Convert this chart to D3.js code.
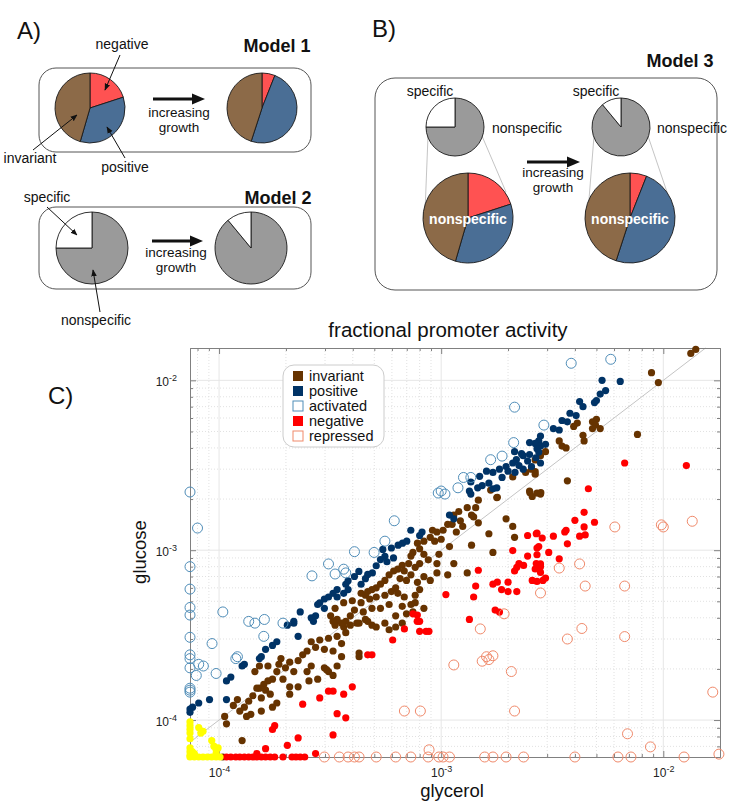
<!DOCTYPE html>
<html><head><meta charset="utf-8">
<script src="https://cdn.jsdelivr.net/npm/d3@7"></script>
<style>
body{margin:0;background:#fff}
text{font-family:"Liberation Sans",Arial,Helvetica,sans-serif;fill:#111}
</style>
</head><body>
<svg id="c" width="750" height="808"></svg>
<script>
// ---------------- DATA ----------------
const growthParts = ["negative", "positive", "invariant"];
const growthBefore = [0.20, 0.345, 0.455];
const growthAfter = [0.06, 0.49, 0.45];
const specParts = ["nonspecific", "specific"];
const specBefore = [0.75, 0.25];
const specAfter = [0.89, 0.11];

const xMajorTicks = [1e-4, 1e-3, 1e-2];
const yMajorTicks = [1e-4, 1e-3, 1e-2];
const legendLabels = ["invariant", "positive", "activated", "negative", "repressed"];

// [glycerol, glucose]
const invariant = [
[1.40e-2,1.52e-2],[1.33e-2,1.44e-2],[8.85e-3,1.11e-2],[9.5e-3,9.7e-3],[5.0e-3,5.9e-3],[4.8e-3,5.7e-3],[4.95e-3,5.45e-3],[5.2e-3,5.2e-3],[4.8e-3,5.2e-3],[4.1e-3,5.6e-3],[3.95e-3,5.35e-3],[4.35e-3,4.75e-3],[4.4e-3,4.4e-3],[7.65e-3,4.8e-3],[3.4e-3,4.4e-3],[3.5e-3,4.1e-3],[3.65e-3,4.0e-3],[2.95e-3,3.8e-3],[2.8e-3,3.6e-3],[2.65e-3,3.4e-3],[2.55e-3,3.0e-3],[2.65e-3,2.9e-3],[3.7e-3,2.56e-3],[2.7e-3,2.17e-3],
[2.4e-3,2.87e-3],[2.1e-3,2.7e-3],[2.5e-3,2.23e-3],[2.8e-3,2.14e-3],[2.65e-3,2.8e-3],[1.78e-3,2.04e-3],
[1.47e-3,1.97e-3],[1.79e-3,2.05e-3],[2.51e-3,2.18e-3],[2.81e-3,2.18e-3],[1.67e-3,2.26e-3],[1.43e-3,1.78e-3],[1.31e-3,1.78e-3],[1.2e-3,1.69e-3],[1.14e-3,1.61e-3],[1.22e-3,1.49e-3],[1.37e-3,1.61e-3],[1.12e-3,1.42e-3],[1.25e-3,1.38e-3],[1.17e-3,1.28e-3],[1.07e-3,1.42e-3],[1.02e-3,1.31e-3],[9.57e-4,1.28e-3],[9.14e-4,1.31e-3],[8.93e-4,1.19e-3],[1.0e-3,1.16e-3],[9.35e-4,1.13e-3],[8.36e-4,1.13e-3],[7.82e-4,1.1e-3],[8.0e-4,1.02e-3],[7.46e-4,9.7e-4],[7.31e-4,9.23e-4],[8.36e-4,9.46e-4],[8.75e-4,8.77e-4],[8.0e-4,8.34e-4],[7.64e-4,7.93e-4],[7.14e-4,8.34e-4],[6.68e-4,8.13e-4],[6.38e-4,7.73e-4],[6.82e-4,7.54e-4],[6.11e-4,7.54e-4],[5.83e-4,7.16e-4],[6.53e-4,6.81e-4],[5.58e-4,6.64e-4],[5.33e-4,6.31e-4],[5.1e-4,6.0e-4],[4.88e-4,5.86e-4],[4.67e-4,5.71e-4],[4.56e-4,5.43e-4],[4.36e-4,5.57e-4],[4.77e-4,5.16e-4],[5.1e-4,5.3e-4],[5.58e-4,5.43e-4],[5.97e-4,5.71e-4],[6.24e-4,6.0e-4],[6.98e-4,6.64e-4],[7.31e-4,7.16e-4],[7.82e-4,6.47e-4],[8.36e-4,6.98e-4],[9.57e-4,7.35e-4],[8.93e-4,6.64e-4],[1.07e-3,7.16e-4],[9.57e-4,8.34e-4],[1.09e-3,1.05e-3],[9.77e-4,9.46e-4],[1.37e-3,1.07e-3],[1.31e-3,7.35e-4],[1.71e-3,9.7e-4],[1.64e-3,1.25e-3],[2.14e-3,1.19e-3],[2.1e-3,1.38e-3],[1.96e-3,1.53e-3],[2.57e-3,2.07e-3],[1.4e-3,1.57e-3],[1.47e-3,1.45e-3],[1.14e-3,8.34e-4],[8.0e-4,5.86e-4],[7.64e-4,5.43e-4],[6.82e-4,5.3e-4],[6.38e-4,5.57e-4],[5.83e-4,4.79e-4],[5.33e-4,4.55e-4],[4.88e-4,4.55e-4],[4.46e-4,4.33e-4],[4.07e-4,4.44e-4],[3.9e-4,4.11e-4],[3.72e-4,3.81e-4],[3.4e-4,3.91e-4],[3.18e-4,4.11e-4],[3.33e-4,3.62e-4],[3.64e-4,3.53e-4],[4.17e-4,3.72e-4],[4.56e-4,3.91e-4],[4.88e-4,3.62e-4],[5.58e-4,3.72e-4],[6.24e-4,4.11e-4],[6.68e-4,4.67e-4],[7.31e-4,4.79e-4],[6.98e-4,4.22e-4],[6.24e-4,3.53e-4],[5.83e-4,3.4e-4],[5.1e-4,3.53e-4],[6.68e-4,3.72e-4],[7.64e-4,4.91e-4],[8.36e-4,4.55e-4],[7.46e-4,4.33e-4],[4.36e-4,4.91e-4],[3.98e-4,5.04e-4],[3.64e-4,4.91e-4],[3.33e-4,4.55e-4],
[3.26e-4,3.81e-4],[3.56e-4,3.72e-4],[3.9e-4,3.62e-4],[4.27e-4,3.72e-4],[4.67e-4,3.81e-4],[3.72e-4,3.27e-4],[3.4e-4,3.11e-4],[3.11e-4,3.03e-4],[2.84e-4,2.96e-4],[2.6e-4,2.89e-4],[2.72e-4,2.68e-4],[2.98e-4,2.61e-4],[3.26e-4,2.55e-4],[3.56e-4,2.82e-4],[2.49e-4,2.55e-4],[2.38e-4,2.42e-4],[2.27e-4,2.24e-4],[2.08e-4,2.19e-4],[1.9e-4,2.3e-4],[1.99e-4,2.03e-4],[2.17e-4,1.93e-4],[2.49e-4,1.93e-4],[2.6e-4,2.08e-4],[2.98e-4,2.03e-4],[3.11e-4,1.93e-4],[3.26e-4,1.83e-4],[3.56e-4,2.36e-4],[4.27e-4,2.48e-4],[4.27e-4,2.36e-4],[1.82e-4,1.93e-4],[1.74e-4,1.74e-4],[1.66e-4,1.7e-4],[1.59e-4,1.62e-4],[1.52e-4,1.54e-4],[1.62e-4,1.5e-4],[1.7e-4,1.42e-4],[1.55e-4,1.35e-4],[1.42e-4,1.39e-4],[1.36e-4,1.29e-4],[1.3e-4,1.19e-4],[1.33e-4,1.05e-4],[1.24e-4,1.13e-4],[1.21e-4,1.32e-4],[1.16e-4,1.22e-4],[1.06e-4,1.05e-4],[1.08e-4,9.5e-5],[1.27e-4,7.57e-5],[1.48e-4,1.54e-4],[1.94e-4,1.74e-4],[2.08e-4,1.57e-4],[2.27e-4,1.57e-4],[2.54e-4,1.7e-4],[2.78e-4,1.74e-4],[3.05e-4,1.98e-4],[3.4e-4,2.08e-4],[2.08e-4,1.42e-4],[1.74e-4,1.19e-4],[1.39e-4,1.08e-4],[1.55e-4,1.13e-4],[1.82e-4,1.26e-4],[1.45e-4,1.93e-4],[1.52e-4,2.08e-4],[1.66e-4,2.08e-4],[1.86e-4,2.13e-4],[1.04e-4,6.06e-5]
];

const positive = [
[6.4e-3,9.85e-3],[5.3e-3,1.0e-2],[5.5e-3,8.7e-3],[5.2e-3,8.3e-3],[5.0e-3,7.6e-3],[4.9e-3,7.4e-3],[4.2e-3,7.5e-3],[4.35e-3,7.0e-3],[3.8e-3,6.4e-3],[4.05e-3,6.2e-3],[3.5e-3,5.8e-3],[3.7e-3,5.7e-3],[3.2e-3,5.2e-3],[3.4e-3,5.1e-3],[2.8e-3,4.7e-3],[2.75e-3,4.4e-3],[2.65e-3,4.25e-3],[2.8e-3,4.1e-3],[2.7e-3,3.95e-3],[2.95e-3,4.2e-3],
[2.14e-3,3.8e-3],[2.5e-3,4.3e-3],[2.3e-3,3.7e-3],
[1.96e-3,3.11e-3],[2.1e-3,3.26e-3],[2.18e-3,3.41e-3],[2.34e-3,3.6e-3],[2.5e-3,3.66e-3],[2.67e-3,3.5e-3],[2.8e-3,3.26e-3],[2.55e-3,3.11e-3],[2.34e-3,3.0e-3],[2.15e-3,2.87e-3],[2.0e-3,2.92e-3],[2.45e-3,3.35e-3],[2.75e-3,3.78e-3],[2.24e-3,3.15e-3],
[1.36e-3,2.52e-3],[1.46e-3,2.33e-3],[1.53e-3,2.4e-3],[1.64e-3,2.48e-3],[1.71e-3,2.3e-3],[1.78e-3,2.33e-3],[1.88e-3,2.68e-3],[1.49e-3,2.72e-3],[1.71e-3,2.87e-3],[1.83e-3,3.0e-3],[1.6e-3,2.92e-3],[1.34e-3,2.23e-3],[1.36e-3,2.14e-3],
[1.09e-3,1.61e-3],[1.14e-3,1.53e-3],
[8.2e-4,1.28e-3],[7.3e-4,1.31e-3],[8.0e-4,1.22e-3],[6.7e-4,1.10e-3],[6.4e-4,1.07e-3],[7.0e-4,1.13e-3],[5.97e-4,1.03e-3],[5.46e-4,1.01e-3],[5.58e-4,9.2e-4],[5.33e-4,8.8e-4],[6.1e-4,9.0e-4],[5.7e-4,8.55e-4],[5.1e-4,8.1e-4],[4.67e-4,7.2e-4],[4.9e-4,7.35e-4],[4.56e-4,6.8e-4],[4.26e-4,7.5e-4],[4.07e-4,7.0e-4],[3.81e-4,6.6e-4],[3.72e-4,6.3e-4],[3.4e-4,5.86e-4],[3.26e-4,5.57e-4],[2.98e-4,5.16e-4],[2.84e-4,4.9e-4],[2.78e-4,4.79e-4],[3.11e-4,5.3e-4],[3.4e-4,5.3e-4],[3.64e-4,5.57e-4],[2.98e-4,4.55e-4],[2.72e-4,4.11e-4],[2.66e-4,3.81e-4],[2.6e-4,4.0e-4],[2.32e-4,4.33e-4],[2.17e-4,3.81e-4],[2.03e-4,3.62e-4],[3.81e-4,5.86e-4],[4.36e-4,6.3e-4],
[2.17e-4,3.72e-4],[2.27e-4,3.11e-4],[1.82e-4,2.89e-4],[1.74e-4,2.75e-4],[1.62e-4,2.61e-4],[1.55e-4,2.36e-4],[1.52e-4,2.3e-4],[1.3e-4,2.13e-4],[1.27e-4,2.08e-4],[1.13e-4,1.79e-4],[1.08e-4,1.7e-4],[1.08e-4,1.32e-4],[9.06e-5,1.32e-4],[8.1e-5,1.26e-4],[7.6e-5,1.19e-4],[7.4e-5,1.16e-4],[7.4e-5,1.11e-4]
];

const activated = [
[3.85e-3,1.26e-2],[5.8e-3,1.33e-2],[2.14e-3,6.95e-3],[2.9e-3,5.45e-3],[2.12e-3,4.3e-3],[1.67e-3,3.41e-3],[1.88e-3,3.58e-3],
[1.26e-3,2.68e-3],[1.36e-3,2.68e-3],[1.19e-3,2.33e-3],[1.0e-3,2.23e-3],[1.04e-3,2.14e-3],[9.7e-4,2.17e-3],
[6.15e-4,1.49e-3],[5.58e-4,1.13e-3],[4.99e-4,9.7e-4],[4.07e-4,9.8e-4],[3.11e-4,8.3e-4],[2.62e-4,7.06e-4],[3.33e-4,7.24e-4],[3.64e-4,7.73e-4],[3.72e-4,7.35e-4],
[1.04e-4,4.33e-4],[1.36e-4,3.81e-4],[1.45e-4,3.72e-4],[1.6e-4,3.91e-4],[1.94e-4,3.72e-4],[1.59e-4,3.11e-4],
[8e-5,1.35e-3],[7.4e-5,2.2e-3],[7.4e-5,8.0e-4],[7.4e-5,5.9e-4],[7.4e-5,4.6e-4],[7.4e-5,4.15e-4],
[7.4e-5,3.07e-4],[9.3e-5,2.82e-4],[7.4e-5,2.42e-4],[7.4e-5,2.3e-4],[8.1e-5,2.13e-4],[8.5e-5,2.08e-4],[7.9e-5,1.83e-4],[7.4e-5,2.03e-4],[9.7e-5,1.88e-4],[7.4e-5,1.54e-4],[7.4e-5,1.5e-4],[7.4e-5,1.46e-4],[1.21e-4,2.36e-4],[1.19e-4,2.3e-4]
];

const negative = [
[6.7e-3,3.26e-3],[1.27e-2,3.15e-3],[4.6e-3,2.3e-3],[4.4e-3,1.67e-3],[4.0e-3,1.5e-3],[4.9e-3,1.46e-3],[4.4e-3,1.37e-3],[3.65e-3,1.31e-3],
[2.7e-3,1.26e-3],[2.85e-3,1.18e-3],[3.2e-3,1.21e-3],[3.6e-3,1.28e-3],[4.2e-3,1.21e-3],[4.45e-3,1.23e-3],[3.7e-3,1.09e-3],[2.7e-3,1.03e-3],[2.7e-3,9.4e-4],[3.05e-3,9.7e-4],[3.4e-3,8.9e-4],[2.8e-3,8.3e-4],[2.8e-3,8.0e-4],[2.65e-3,7.75e-4],[2.8e-3,7.4e-4],[2.95e-3,6.85e-4],[2.7e-3,6.55e-4],
[2.45e-3,1.22e-3],[2.68e-3,1.25e-3],[2.1e-3,9.95e-4],[2.75e-3,1.05e-3],[2.45e-3,9.23e-4],[2.24e-3,8.34e-4],[2.19e-3,7.93e-4],[2.35e-3,8.13e-4],[2.14e-3,7.54e-4],[2.68e-3,8.34e-4],[2.87e-3,6.64e-4],[2.57e-3,6.64e-4],[2.0e-3,6.48e-4],[1.79e-3,6.48e-4],[1.71e-3,6.31e-4],[1.87e-3,5.86e-4],[2.0e-3,5.71e-4],[2.19e-3,5.71e-4],[1.43e-3,6.15e-4],[1.4e-3,5.3e-4],[1.05e-3,5.48e-4],[1.47e-3,7.62e-4],[1.75e-3,4.44e-4],[1.83e-3,4.32e-4],[1.34e-3,3.91e-4],[7.81e-4,4.15e-4],[8.0e-4,3.81e-4],[7.47e-4,4.22e-4],
[6.05e-4,2.96e-4],[6.83e-4,3.44e-4],[8.0e-4,3.33e-4],[8.55e-4,3.33e-4],[8.81e-4,3.33e-4],[7.8e-4,3.81e-4],[4.88e-4,2.42e-4],[4.67e-4,2.42e-4],[3.98e-4,1.57e-4],[3.64e-4,1.42e-4],[3.26e-4,1.48e-4],[3.11e-4,1.48e-4],[2.84e-4,1.35e-4],[2.38e-4,1.24e-4],[3.4e-4,1.09e-4],[3.72e-4,1.03e-4],[3.26e-4,8.17e-5],[2.27e-4,7.85e-5],[2.03e-4,7.1e-5],[1.78e-4,9.27e-5],[1.74e-4,8.8e-5],[1.62e-4,6.78e-5],[1.48e-4,6.35e-5],[2.72e-4,6.35e-5],
[1.08e-4,6.06e-5],[1.13e-4,6.06e-5],[1.19e-4,6.06e-5],[1.24e-4,6.06e-5],[1.3e-4,6.06e-5],[1.36e-4,6.06e-5],[1.42e-4,6.06e-5],[1.48e-4,6.06e-5],[1.55e-4,6.06e-5],[1.62e-4,6.06e-5],[1.7e-4,6.06e-5],[1.78e-4,6.06e-5],[1.94e-4,6.06e-5],[2.13e-4,6.06e-5],[2.22e-4,6.06e-5],[2.32e-4,6.06e-5],[2.43e-4,6.06e-5]
];

const repressed = [
[2.98e-4,6.06e-5],[3.48e-4,6.06e-5],[3.81e-4,6.06e-5],[4.07e-4,6.06e-5],[4.27e-4,6.06e-5],[5.1e-4,6.06e-5],[6.24e-4,6.06e-5],[7.3e-4,6.06e-5],[8.74e-4,6.06e-5],[9.77e-4,6.06e-5],[1.02e-3,6.06e-5],[1.09e-3,6.06e-5],[1.57e-3,6.06e-5],[1.71e-3,6.06e-5],[1.96e-3,6.06e-5],[2.35e-3,6.06e-5],[4.0e-3,6.06e-5],[6.25e-3,6.06e-5],[7.15e-3,6.06e-5],[1.24e-2,6.06e-5],
[8.82e-4,6.68e-5],[6.83e-4,1.13e-4],[8.06e-4,1.13e-4],[2.14e-3,1.13e-4],[1.14e-3,2.11e-4],[1.53e-3,2.22e-4],[1.6e-3,2.36e-4],[1.71e-3,2.39e-4],[1.64e-3,2.27e-4],[2.07e-3,1.93e-4],[1.5e-3,3.44e-4],[1.92e-3,4.22e-4],[3.4e-3,7.85e-4],[4.2e-3,8.3e-4],[4.45e-3,6.15e-4],[6.7e-3,6.15e-4],[2.8e-3,5.6e-4],[4.3e-3,3.46e-4],[3.7e-3,3.0e-4],[6.7e-3,3.1e-4],[1.67e-2,1.46e-4],[6.9e-3,8.3e-5],[8.75e-3,6.95e-5],[1.78e-2,6.3e-5],[6.05e-3,1.37e-3],[9.8e-3,1.41e-3],[1.0e-2,1.37e-3],[1.35e-2,1.48e-3]
];

const belowFloor = [
[7.4e-5,9.75e-5],[7.4e-5,9.27e-5],[7.4e-5,8.81e-5],[7.4e-5,8.38e-5],[7.4e-5,7.76e-5],[7.4e-5,6.85e-5],[7.4e-5,6.51e-5],[7.4e-5,6.19e-5],[7.4e-5,6.06e-5],[7.57e-5,6.51e-5],[7.74e-5,6.35e-5],[8.1e-5,9.04e-5],[8.28e-5,8.38e-5],[8.47e-5,8.59e-5],[9.27e-5,7.57e-5],[9.48e-5,7.02e-5],[9.7e-5,6.68e-5],[9.7e-5,6.35e-5],[9.9e-5,6.85e-5],[7.74e-5,6.06e-5],[8.1e-5,6.06e-5],[8.47e-5,6.06e-5],[8.86e-5,6.06e-5],[9.27e-5,6.06e-5],[9.7e-5,6.06e-5],[1.01e-4,6.06e-5]
];

// ---------------- STYLE ----------------
const pieColors = {negative:"#ff5252", positive:"#4a6e95", invariant:"#8c6a48", nonspecific:"#9a9a9a", specific:"#ffffff"};
const ptColors = {invariant:"#663300", positive:"#003366", activated:"#4f8db8", negative:"#ff0000", repressed:"#f0896a", floor:"#ffff00"};

const svg = d3.select("#c");
const defs = svg.append("defs");
defs.append("marker").attr("id","ah").attr("viewBox","0 0 10 10").attr("refX",9).attr("refY",5)
  .attr("markerWidth",7).attr("markerHeight",7).attr("orient","auto")
  .append("path").attr("d","M0,1 L10,5 L0,9 z").attr("fill","#111");

function txt(x, y, s, size, opts) {
  opts = opts || {};
  const t = svg.append("text").attr("x", x).attr("y", y).style("font-size", size + "px").text(s);
  if (opts.anchor) t.attr("text-anchor", opts.anchor);
  if (opts.bold) t.style("font-weight", "bold");
  if (opts.fill) t.style("fill", opts.fill);
  return t;
}
function pie(cx, cy, r, vals, names) {
  const arcs = d3.pie().sort(null)(vals);
  const arc = d3.arc().innerRadius(0).outerRadius(r);
  const g = svg.append("g").attr("transform", `translate(${cx},${cy})`);
  g.selectAll("path").data(arcs).join("path").attr("d", arc)
    .attr("fill", (d, i) => pieColors[names[i]]).attr("stroke", "#1a1a1a").attr("stroke-width", 0.9);
}
function bigArrow(x1, x2, y) {
  svg.append("line").attr("x1", x1).attr("x2", x2 - 10).attr("y1", y).attr("y2", y).attr("stroke", "#111").attr("stroke-width", 3);
  svg.append("path").attr("d", `M${x2},${y} L${x2 - 13},${y - 5.5} L${x2 - 13},${y + 5.5} Z`).attr("fill", "#111");
}
function pointer(x1, y1, x2, y2) {
  svg.append("line").attr("x1", x1).attr("y1", y1).attr("x2", x2).attr("y2", y2)
    .attr("stroke", "#111").attr("stroke-width", 1).attr("marker-end", "url(#ah)");
}
function box(x, y, w, h, r) {
  svg.append("rect").attr("x", x).attr("y", y).attr("width", w).attr("height", h).attr("rx", r)
    .attr("fill", "none").attr("stroke", "#555").attr("stroke-width", 1);
}

// ---------------- PANEL A ----------------
txt(17, 39, "A)", 24);
txt(277, 52, "Model 1", 18, {anchor:"middle", bold:true});
box(39, 68, 272, 84, 17);
pie(90, 108, 35, growthBefore, growthParts);
pie(262, 108, 35, growthAfter, growthParts);
bigArrow(153, 205, 99);
txt(179, 117, "increasing", 13.5, {anchor:"middle"});
txt(179, 132, "growth", 13.5, {anchor:"middle"});
txt(122, 49, "negative", 14, {anchor:"middle"});
pointer(120, 55, 105, 90);
txt(30, 163, "invariant", 14, {anchor:"middle"});
pointer(33, 150, 77, 115);
txt(125, 172, "positive", 14, {anchor:"middle"});
pointer(125, 158, 107, 127);

txt(278, 204, "Model 2", 18, {anchor:"middle", bold:true});
box(39, 207, 272, 82, 17);
pie(92, 248, 36, specBefore, specParts);
pie(251, 248, 36, specAfter, specParts);
bigArrow(152, 203, 241);
txt(176, 257, "increasing", 13.5, {anchor:"middle"});
txt(176, 272, "growth", 13.5, {anchor:"middle"});
txt(47, 202, "specific", 14, {anchor:"middle"});
pointer(47, 207, 77, 235);
txt(96, 325, "nonspecific", 14, {anchor:"middle"});
pointer(100, 312, 93, 270);

// ---------------- PANEL B ----------------
txt(372, 37, "B)", 24);
txt(680, 67, "Model 3", 18, {anchor:"middle", bold:true});
box(375, 78, 342, 212, 20);
const zoomLines = [[428,136,425,212],[482,136,506,192],[594,136,588,212],[648,136,667,192]];
zoomLines.forEach(l => svg.append("line").attr("x1",l[0]).attr("y1",l[1]).attr("x2",l[2]).attr("y2",l[3]).attr("stroke","#b5b5b5").attr("stroke-width",0.8));
pie(455, 127, 29, specBefore, specParts);
pie(621, 127, 29, specAfter, specParts);
pie(468, 218, 45, growthBefore, growthParts);
pie(630, 218, 45, growthAfter, growthParts);
txt(430, 96, "specific", 14, {anchor:"middle"});
txt(596, 96, "specific", 14, {anchor:"middle"});
txt(492, 133, "nonspecific", 14);
txt(657, 133, "nonspecific", 14);
txt(468, 224, "nonspecific", 14, {anchor:"middle", bold:true, fill:"#fff"});
txt(630, 224, "nonspecific", 14, {anchor:"middle", bold:true, fill:"#fff"});
bigArrow(527, 580, 162);
txt(553, 177, "increasing", 13.5, {anchor:"middle"});
txt(553, 192, "growth", 13.5, {anchor:"middle"});

// ---------------- PANEL C ----------------
txt(48, 404, "C)", 24);
const x = d3.scaleLog().domain([7.4e-5, 1.8e-2]).range([190, 720]);
const y = d3.scaleLog().domain([6.06e-5, 1.55e-2]).range([757, 348]);
const [X0, X1] = x.range(), [Y0, Y1] = y.range();

const minorOf = (sc, majors) => {
  const out = [];
  [1e-5].concat(majors).forEach(d => { for (let m = 2; m <= 9; m++) { const v = m * d; const [a, b] = sc.domain(); if (v > a && v < b) out.push(v); } });
  return out;
};
const xMinor = minorOf(x, xMajorTicks), yMinor = minorOf(y, yMajorTicks);

const grid = svg.append("g");
grid.selectAll(".xmin").data(xMinor).join("line").attr("x1", d => x(d)).attr("x2", d => x(d)).attr("y1", Y1).attr("y2", Y0)
  .attr("stroke", "#d9d9d9").attr("stroke-width", 0.8).attr("stroke-dasharray", "1,2");
grid.selectAll(".ymin").data(yMinor).join("line").attr("y1", d => y(d)).attr("y2", d => y(d)).attr("x1", X0).attr("x2", X1)
  .attr("stroke", "#d9d9d9").attr("stroke-width", 0.8).attr("stroke-dasharray", "1,2");
grid.selectAll(".xmaj").data(xMajorTicks).join("line").attr("x1", d => x(d)).attr("x2", d => x(d)).attr("y1", Y1).attr("y2", Y0)
  .attr("stroke", "#e6e6e6").attr("stroke-width", 1);
grid.selectAll(".ymaj").data(yMajorTicks).join("line").attr("y1", d => y(d)).attr("y2", d => y(d)).attr("x1", X0).attr("x2", X1)
  .attr("stroke", "#e6e6e6").attr("stroke-width", 1);

// diagonal y = x
svg.append("line").attr("x1", x(7.4e-5)).attr("y1", y(7.4e-5)).attr("x2", x(1.55e-2)).attr("y2", y(1.55e-2))
  .attr("stroke", "#c4c4c4").attr("stroke-width", 1);

function styleAxis(g) {
  g.select(".domain").attr("stroke", "#808080");
  g.selectAll(".tick line").attr("stroke", "#808080");
}
function expLabels(g) {
  g.selectAll(".tick text").each(function(d) {
    const t = d3.select(this); t.text("");
    t.style("font-size", "12px").style("fill", "#222");
    t.append("tspan").text("10");
    t.append("tspan").attr("dy", "-0.55em").style("font-size", "9px").text(String(Math.round(Math.log10(d))));
  });
}
const gb = svg.append("g").attr("transform", `translate(0,${Y0})`)
  .call(d3.axisBottom(x).tickValues(xMajorTicks).tickSize(-6).tickSizeOuter(0).tickPadding(11));
expLabels(gb); styleAxis(gb);
svg.append("g").attr("transform", `translate(0,${Y0})`).call(d3.axisBottom(x).tickValues(xMinor).tickSize(-3).tickSizeOuter(0).tickFormat("")).call(styleAxis);
const gl = svg.append("g").attr("transform", `translate(${X0},0)`)
  .call(d3.axisLeft(y).tickValues(yMajorTicks).tickSize(-6).tickSizeOuter(0).tickPadding(13));
expLabels(gl); styleAxis(gl);
gl.selectAll(".tick text").attr("dy", "0.45em");
svg.append("g").attr("transform", `translate(${X0},0)`).call(d3.axisLeft(y).tickValues(yMinor).tickSize(-3).tickSizeOuter(0).tickFormat("")).call(styleAxis);
svg.append("g").attr("transform", `translate(0,${Y1})`).call(d3.axisTop(x).tickValues(xMajorTicks).tickSize(-6).tickSizeOuter(0).tickFormat("")).call(styleAxis);
svg.append("g").attr("transform", `translate(0,${Y1})`).call(d3.axisTop(x).tickValues(xMinor).tickSize(-3).tickSizeOuter(0).tickFormat("")).call(styleAxis);
svg.append("g").attr("transform", `translate(${X1},0)`).call(d3.axisRight(y).tickValues(yMajorTicks).tickSize(-6).tickSizeOuter(0).tickFormat("")).call(styleAxis);
svg.append("g").attr("transform", `translate(${X1},0)`).call(d3.axisRight(y).tickValues(yMinor).tickSize(-3).tickSizeOuter(0).tickFormat("")).call(styleAxis);

// points
function filled(data, color) {
  svg.append("g").selectAll("circle").data(data).join("circle")
    .attr("cx", d => x(d[0])).attr("cy", d => y(d[1])).attr("r", 3.6).attr("fill", color);
}
function hollow(data, color) {
  svg.append("g").selectAll("circle").data(data).join("circle")
    .attr("cx", d => x(d[0])).attr("cy", d => y(d[1])).attr("r", 5).attr("fill", "none").attr("stroke", color).attr("stroke-width", 1);
}
filled(invariant, ptColors.invariant);
filled(positive, ptColors.positive);
hollow(activated, ptColors.activated);
filled(negative, ptColors.negative);
hollow(repressed, ptColors.repressed);
filled(belowFloor, ptColors.floor);

// title & axis labels
txt(448, 337, "fractional promoter activity", 20.5, {anchor:"middle"});
txt(452, 797, "glycerol", 18.5, {anchor:"middle"});
svg.append("text").attr("transform", "translate(146,552) rotate(-90)").attr("text-anchor", "middle")
  .style("font-size", "18.5px").text("glucose");

// legend
const lg = svg.append("g").attr("transform", "translate(283,365)");
lg.append("rect").attr("width", 101).attr("height", 82).attr("rx", 11).attr("fill", "#fff").attr("stroke", "#cccccc");
const legendColors = [ptColors.invariant, ptColors.positive, ptColors.activated, ptColors.negative, ptColors.repressed];
const legendHollow = [false, false, true, false, true];
legendLabels.forEach((name, i) => {
  const cy = 11 + i * 15;
  lg.append("rect").attr("x", 10).attr("y", cy - 5).attr("width", 10).attr("height", 10)
    .attr("fill", legendHollow[i] ? "#fff" : legendColors[i])
    .attr("stroke", legendHollow[i] ? legendColors[i] : "none").attr("stroke-width", 1);
  lg.append("text").attr("x", 26).attr("y", cy + 5).style("font-size", "14.5px").text(name);
});
</script>
</body></html>
